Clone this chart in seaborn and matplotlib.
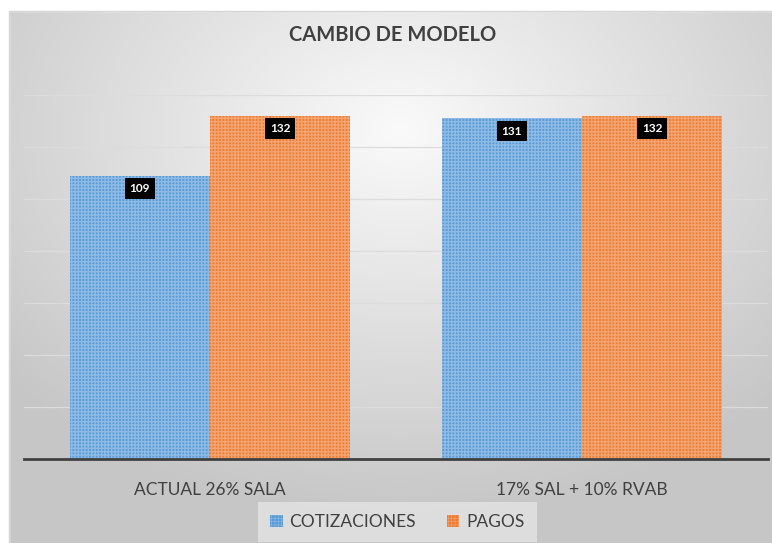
import numpy as np
import pandas as pd
import matplotlib
matplotlib.use("Agg")
import matplotlib.pyplot as plt
import seaborn as sns
from matplotlib.patches import Patch, Rectangle

categories = ["ACTUAL 26% SALA", "17% SAL + 10% RVAB"]
series = ["COTIZACIONES", "PAGOS"]
cotizaciones = [109, 131]
pagos = [132, 132]
colors = ["#5B9BD5", "#ED7D31"]
hatch_colors = ["#8DBBE6", "#F4A472"]


def build_frame():
    rows = []
    for cat, c, p in zip(categories, cotizaciones, pagos):
        rows.append({"categoria": cat, "serie": series[0], "valor": c})
        rows.append({"categoria": cat, "serie": series[1], "valor": p})
    return pd.DataFrame(rows)


def draw_background(fig):
    # radial grey gradient like the office chart area
    bg = fig.add_axes([0, 0, 1, 1], zorder=-10)
    h, w = 543, 772
    yy, xx = np.mgrid[0:h, 0:w]
    d = np.sqrt(((xx - 400) / 560.0) ** 2 + ((yy - 130) / 420.0) ** 2)
    g = np.clip(0.98 - 0.22 * d, 0.78, 0.98)
    img = np.dstack([g, g, g])
    bg.imshow(img, extent=[0, w, h, 0], aspect="auto")
    bg.add_patch(Rectangle((0, 0), 9, h, color="white"))
    bg.add_patch(Rectangle((0, 0), w, 11, color="white"))
    bg.plot([9, 9, w], [h, 11, 11], color="#d6d6d6", lw=1)
    bg.set_xlim(0, w)
    bg.set_ylim(h, 0)
    bg.axis("off")


def main():
    df = build_frame()
    sns.set_style("white")
    plt.rcParams["font.family"] = ["Lato", "DejaVu Sans"]

    fig = plt.figure(figsize=(7.72, 5.43), dpi=100)
    draw_background(fig)
    ax = fig.add_axes([24 / 772, 1 - 459 / 543, 744 / 772, (459 - 95) / 543])
    ax.patch.set_alpha(0)

    sns.barplot(data=df, x="categoria", y="valor", hue="serie", palette=colors,
                width=0.755, ax=ax, legend=False, saturation=1)

    plt.rcParams["hatch.linewidth"] = 0.4
    for cont, hc in zip(ax.containers, hatch_colors):
        for bar in cont:
            bar.set_hatch("+++++")
            bar.set_edgecolor(hc)
            bar.set_linewidth(0)
            bar.set_zorder(3)
            x = bar.get_x() + bar.get_width() / 2
            top = bar.get_height()
            ax.text(x, top - 4.9, f"{int(top)}", ha="center", va="center",
                    fontsize=8.5, fontweight="bold", color="white", zorder=5,
                    bbox=dict(boxstyle="square,pad=0.4", fc="black", ec="none"))

    ax.set_ylim(0, 140)
    ax.set_xlim(-0.5, 1.5)
    ax.set_yticks(range(20, 141, 20))
    ax.yaxis.grid(True, color="#dcdcdc", lw=0.9, zorder=0)
    ax.set_axisbelow(True)
    ax.tick_params(axis="y", left=False, labelleft=False)
    ax.tick_params(axis="x", bottom=False, labelsize=12.5, colors="#404040", pad=13)
    ax.set_xlabel("")
    ax.set_ylabel("")
    for s in ["top", "right", "left"]:
        ax.spines[s].set_visible(False)
    ax.spines["bottom"].set_color("#404040")
    ax.spines["bottom"].set_linewidth(2)
    ax.spines["bottom"].set_zorder(6)

    fig.text(0.508, 1 - 35 / 543, "CAMBIO DE MODELO", ha="center", va="center",
             fontsize=14.5, fontweight="bold", color="#404040")

    handles = [Patch(facecolor=c, edgecolor=hc, hatch="+++++", lw=0)
               for c, hc in zip(colors, hatch_colors)]
    leg = fig.legend(handles, series, loc="center", bbox_to_anchor=(0.515, 1 - 522 / 543),
                     ncol=2, frameon=True, fontsize=12.5, handlelength=0.7, handleheight=0.7,
                     handletextpad=0.4, columnspacing=1.8, borderpad=0.4)
    leg.get_frame().set_facecolor("#e4e4e4")
    leg.get_frame().set_edgecolor("none")
    leg.get_frame().set_boxstyle("square")
    for t in leg.get_texts():
        t.set_color("#404040")

    fig.savefig("out.png", dpi=100)


if __name__ == "__main__":
    main()
